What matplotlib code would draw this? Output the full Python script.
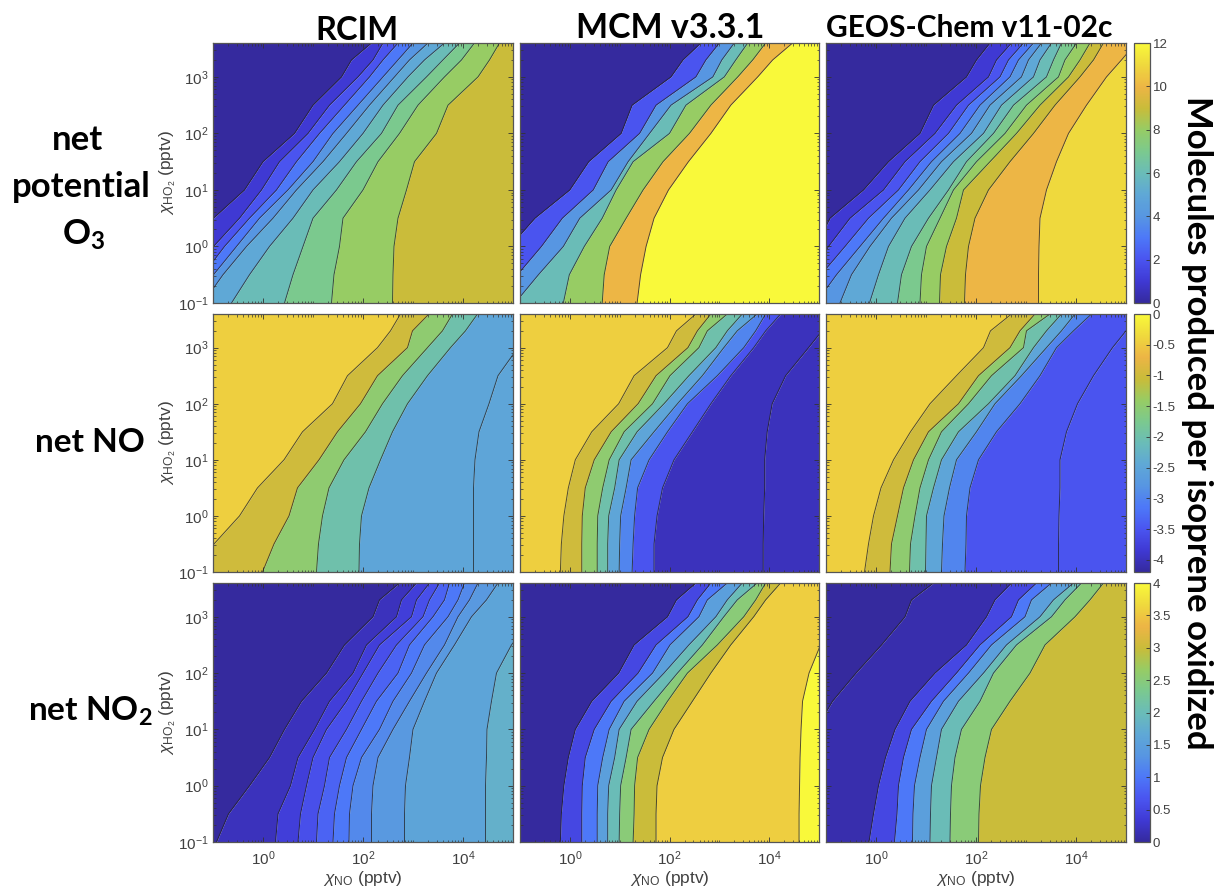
import numpy as np
import matplotlib
matplotlib.use('Agg')
import matplotlib.pyplot as plt
from matplotlib.colors import LinearSegmentedColormap, Normalize
from matplotlib.cm import ScalarMappable
from matplotlib.ticker import FixedLocator, LogLocator, NullFormatter, LogFormatterMathtext

plt.rcParams['font.family'] = ['Liberation Sans', 'DejaVu Sans']
plt.rcParams['mathtext.fontset'] = 'custom'
plt.rcParams['mathtext.rm'] = 'Liberation Sans'
plt.rcParams['mathtext.it'] = 'Liberation Sans:italic'
plt.rcParams['mathtext.bf'] = 'Lato:bold'

HO2_ROWS = [-1, -0.5, 0, 0.5, 1, 1.5, 2, 2.5, 3, 3.3, 3.6]

# each list: log10 NO of one contour edge at HO2_ROWS
RCIM_O3 = [
    [-1.2, -1.2, -1.2, -0.99, -0.37, 0.0, 0.63, 1.0, 1.57, 1.77, 2.17],
    [-1.4, -1.3, -0.99, -0.47, -0.03, 0.33, 0.9, 1.33, 1.9, 2.2, 2.4],
    [-1.5, -1.2, -0.77, -0.27, 0.27, 0.67, 1.13, 1.63, 2.13, 2.4, 2.7],
    [-1.5, -0.99, -0.53, -0.07, 0.5, 1.0, 1.4, 1.9, 2.4, 2.7, 3.0],
    [-1.2, -0.8, -0.33, 0.2, 0.67, 1.2, 1.67, 2.13, 2.63, 2.93, 3.3],
    [-0.63, -0.27, 0.13, 0.6, 1.0, 1.53, 2.0, 2.4, 2.9, 3.23, 3.63],
    [0.43, 0.6, 0.8, 1.0, 1.47, 1.87, 2.37, 2.7, 3.27, 3.6, 3.93],
    [1.37, 1.42, 1.53, 1.6, 2.0, 2.3, 2.73, 3.1, 3.63, 3.97, 4.23],
    [2.59, 2.6, 2.62, 2.7, 2.87, 3.03, 3.47, 3.7, 4.3, 4.53, 4.73],
]
RCIM_O3_BANDS = [0, 1, 2, 3, 4, 5, 6, 7, 8, 9]

MCM_O3 = [
    [-1.3, -1.3, -1.2, -0.7, 0.0, 0.38, 1.03, 1.25, 2.03, 2.27, 2.63],
    [-1.4, -1.05, -0.57, -0.15, 0.47, 0.77, 1.4, 1.73, 2.53, 2.73, 3.0],
    [-1.1, -0.63, -0.13, 0.2, 0.83, 1.17, 1.6, 2.03, 2.87, 3.05, 3.3],
    [-0.13, -0.01, 0.29, 0.65, 0.93, 1.27, 2.0, 2.33, 3.1, 3.33, 3.57],
    [0.65, 0.69, 0.8, 1.13, 1.47, 1.87, 2.4, 2.83, 3.37, 3.67, 3.93],
    [1.35, 1.42, 1.53, 1.69, 1.98, 2.38, 2.83, 3.23, 3.77, 4.07, 4.47],
]
MCM_O3_BANDS = [0, 2, 4, 6, 8, 10, 12]

GEOS_O3 = [
    [-1.3, -1.3, -1.2, -0.92, -0.25, 0.25, 0.88, 1.15, 1.81, 2.01, 2.28],
    [-1.4, -1.3, -0.95, -0.52, 0.15, 0.58, 1.18, 1.61, 2.25, 2.41, 2.71],
    [-1.5, -1.1, -0.62, -0.15, 0.45, 0.88, 1.45, 1.85, 2.48, 2.65, 2.95],
    [-1.2, -0.79, -0.32, 0.15, 0.65, 1.11, 1.68, 2.08, 2.68, 2.85, 3.15],
    [-0.72, -0.49, -0.12, 0.31, 0.85, 1.31, 1.91, 2.28, 2.91, 3.05, 3.31],
    [-0.13, 0.05, 0.25, 0.58, 1.08, 1.55, 2.15, 2.51, 3.15, 3.28, 3.51],
    [0.43, 0.51, 0.71, 1.05, 1.45, 1.81, 2.35, 2.75, 3.41, 3.55, 3.71],
    [0.88, 0.91, 1.01, 1.28, 1.55, 2.01, 2.58, 3.01, 3.65, 3.78, 4.01],
    [1.27, 1.29, 1.41, 1.61, 1.75, 2.28, 2.81, 3.28, 3.85, 4.08, 4.28],
    [1.77, 1.79, 1.85, 1.98, 2.25, 2.68, 3.15, 3.58, 4.08, 4.35, 4.55],
    [3.25, 3.25, 3.26, 3.28, 3.41, 3.61, 3.85, 4.21, 4.61, 4.91, 5.2],
]
GEOS_O3_BANDS = [0, 1, 2, 3, 4, 5, 6, 7, 8, 9, 10, 11]

RCIM_NO = [
    [-1.3, -0.98, -0.47, -0.11, 0.42, 0.79, 1.39, 1.69, 2.29, 2.55, 2.75],
    [-0.01, 0.22, 0.52, 0.69, 1.12, 1.49, 1.95, 2.29, 2.89, 2.99, 3.32],
    [1.07, 1.11, 1.19, 1.32, 1.62, 2.05, 2.39, 2.79, 3.29, 3.59, 3.79],
    [1.92, 1.93, 1.97, 2.12, 2.35, 2.59, 2.89, 3.29, 3.75, 4.05, 4.29],
    [4.21, 4.21, 4.21, 4.21, 4.24, 4.32, 4.52, 4.7, 5.1, 5.4, 5.7],
]
RCIM_NO_BANDS = [-0.45, -1, -1.5, -2, -2.5, -2.5]

MCM_NO = [
    [-0.19, -0.17, -0.12, -0.03, 0.11, 0.44, 0.98, 1.29, 1.96, 2.14, 2.53],
    [0.24, 0.24, 0.25, 0.31, 0.49, 0.83, 1.37, 1.73, 2.37, 2.56, 2.83],
    [0.55, 0.55, 0.56, 0.66, 0.79, 1.09, 1.66, 2.01, 2.59, 2.76, 3.16],
    [0.76, 0.76, 0.78, 0.9, 0.99, 1.35, 1.89, 2.39, 2.93, 3.16, 3.46],
    [0.99, 1.0, 1.02, 1.13, 1.23, 1.69, 2.16, 2.66, 3.09, 3.36, 3.76],
    [1.25, 1.27, 1.3, 1.36, 1.59, 1.96, 2.36, 2.96, 3.49, 3.73, 3.93],
    [1.69, 1.69, 1.75, 1.86, 2.09, 2.46, 2.83, 3.23, 3.69, 3.93, 4.23],
    [3.88, 3.88, 3.89, 3.91, 3.91, 3.96, 4.06, 4.33, 4.79, 5.06, 5.4],
]
MCM_NO_BANDS = [-0.45, -1, -1.5, -2, -2.5, -3, -3.5, -4, -4]

GEOS_NO = [
    [-0.23, -0.15, -0.05, 0.1, 0.35, 0.69, 1.08, 1.61, 2.15, 2.29, 2.71],
    [0.28, 0.31, 0.43, 0.55, 0.75, 1.05, 1.65, 2.05, 2.68, 2.88, 3.18],
    [0.67, 0.69, 0.78, 0.88, 1.05, 1.31, 1.85, 2.31, 2.95, 3.01, 3.48],
    [0.99, 1.0, 1.01, 1.15, 1.31, 1.65, 2.25, 2.78, 3.15, 3.41, 3.71],
    [1.31, 1.33, 1.36, 1.47, 1.61, 2.01, 2.38, 2.91, 3.41, 3.71, 3.98],
    [1.78, 1.8, 1.81, 1.88, 2.05, 2.41, 2.88, 3.28, 3.61, 3.95, 4.31],
    [3.65, 3.65, 3.66, 3.68, 3.68, 3.81, 4.03, 4.35, 4.73, 5.0, 5.28],
]
GEOS_NO_BANDS = [-0.45, -1, -1.5, -2, -2.5, -3, -3.5, -3.5]

RCIM_NO2 = [
    [-0.93, -0.69, -0.27, 0.13, 0.43, 0.77, 1.27, 1.63, 2.2, 2.33, 2.73],
    [0.25, 0.3, 0.55, 0.7, 1.03, 1.33, 1.8, 2.07, 2.67, 2.77, 3.07],
    [0.7, 0.75, 0.87, 1.0, 1.27, 1.67, 2.0, 2.33, 2.97, 3.07, 3.33],
    [1.07, 1.1, 1.23, 1.33, 1.67, 1.97, 2.3, 2.67, 3.2, 3.33, 3.53],
    [1.4, 1.43, 1.53, 1.67, 1.97, 2.27, 2.7, 2.93, 3.4, 3.63, 3.73],
    [1.72, 1.73, 1.8, 1.97, 2.33, 2.6, 2.97, 3.23, 3.7, 3.9, 4.03],
    [2.17, 2.17, 2.2, 2.3, 2.6, 2.93, 3.27, 3.63, 3.9, 4.13, 4.3],
    [2.83, 2.83, 2.85, 2.93, 3.0, 3.23, 3.47, 3.83, 4.17, 4.47, 4.7],
    [4.45, 4.45, 4.45, 4.47, 4.48, 4.57, 4.67, 4.97, 5.4, 5.7, 6.0],
]
RCIM_NO2_BANDS = [0, 0.2, 0.4, 0.6, 0.8, 1.0, 1.2, 1.4, 1.6, 1.8]

MCM_NO2 = [
    [-0.19, -0.17, -0.12, -0.03, 0.11, 0.44, 0.98, 1.29, 1.96, 2.14, 2.53],
    [0.24, 0.24, 0.25, 0.31, 0.49, 0.83, 1.37, 1.73, 2.37, 2.56, 2.83],
    [0.55, 0.55, 0.56, 0.66, 0.79, 1.09, 1.66, 2.01, 2.59, 2.76, 3.16],
    [0.76, 0.76, 0.78, 0.9, 0.99, 1.35, 1.89, 2.39, 2.93, 3.16, 3.46],
    [0.99, 1.0, 1.02, 1.13, 1.23, 1.69, 2.16, 2.66, 3.09, 3.36, 3.76],
    [1.27, 1.29, 1.3, 1.36, 1.59, 1.96, 2.36, 2.96, 3.49, 3.73, 3.93],
    [1.73, 1.73, 1.75, 1.86, 2.09, 2.46, 2.83, 3.23, 3.69, 3.93, 4.23],
    [4.6, 4.6, 4.61, 4.62, 4.64, 4.67, 4.8, 5.03, 5.4, 5.7, 6.0],
]
MCM_NO2_BANDS = [0, 0.5, 1, 1.5, 2, 2.5, 3, 3.55, 4]

GEOS_NO2 = [
    [-1.3, -1.3, -1.3, -1.3, -1.2, -0.87, -0.4, 0.11, 0.58, 0.71, 1.15],
    [-0.14, -0.05, 0.05, 0.19, 0.38, 0.68, 1.18, 1.81, 2.21, 2.38, 2.71],
    [0.37, 0.42, 0.45, 0.55, 0.71, 1.11, 1.61, 2.08, 2.71, 2.85, 3.21],
    [0.73, 0.74, 0.77, 0.88, 1.01, 1.35, 1.85, 2.31, 2.98, 3.11, 3.51],
    [1.08, 1.09, 1.11, 1.21, 1.31, 1.65, 2.15, 2.61, 3.28, 3.55, 3.95],
    [1.48, 1.49, 1.51, 1.58, 1.71, 2.08, 2.35, 2.81, 3.51, 3.78, 4.11],
    [2.05, 2.06, 2.09, 2.18, 2.31, 2.68, 3.08, 3.38, 3.98, 4.28, 4.55],
]
GEOS_NO2_BANDS = [0, 0.1, 0.5, 1, 1.5, 2, 2.5, 3]

COL_TITLES = ['RCIM', 'MCM v3.3.1', 'GEOS-Chem v11-02c']
CBAR_RANGES = [(0, 12), (-4.2, 0), (0, 4)]
CBAR_TICKS = [
    [0, 2, 4, 6, 8, 10, 12],
    [-4, -3.5, -3, -2.5, -2, -1.5, -1, -0.5, 0],
    [0, 0.5, 1, 1.5, 2, 2.5, 3, 3.5, 4],
]
CBAR_LABELS = [
    ['0', '2', '4', '6', '8', '10', '12'],
    ['-4', '-3.5', '-3', '-2.5', '-2', '-1.5', '-1', '-0.5', '0'],
    ['0', '0.5', '1', '1.5', '2', '2.5', '3', '3.5', '4'],
]
PANELS = [
    [(RCIM_O3, RCIM_O3_BANDS), (MCM_O3, MCM_O3_BANDS), (GEOS_O3, GEOS_O3_BANDS)],
    [(RCIM_NO, RCIM_NO_BANDS), (MCM_NO, MCM_NO_BANDS), (GEOS_NO, GEOS_NO_BANDS)],
    [(RCIM_NO2, RCIM_NO2_BANDS), (MCM_NO2, MCM_NO2_BANDS), (GEOS_NO2, GEOS_NO2_BANDS)],
]

cmap = LinearSegmentedColormap.from_list('parula_ish', [
    '#352a9e', '#3f39d4', '#4a55f0', '#4d78f8', '#5796e2', '#5fa8d6', '#6abcb8',
    '#7bc98f', '#97cc64', '#c9bc3a', '#edb545', '#efd93d', '#f9f93a'])

W, H = 1217, 888
GRAY = '#404040'
COL_X = [(213, 513), (520, 819), (826, 1126)]
ROW_Y = [(43, 303), (314, 572), (583, 842)]
CBAR_X = (1134, 1150)


def px_axes(x0, x1, y0, y1):
    return fig.add_axes([x0 / W, 1 - y1 / H, (x1 - x0) / W, (y1 - y0) / H])


def px_text(x, y, s, **kw):
    fig.text(x / W, 1 - y / H, s, ha='center', va='center', color='black',
             family=['Lato', 'DejaVu Sans'], fontweight='bold', **kw)


def draw_panel(ax, edges, bands, norm):
    rows = 10.0 ** np.array(HO2_ROWS)
    stack = [np.full(len(rows), 1e-3)] + [10.0 ** np.array(e) for e in edges] + [np.full(len(rows), 1e7)]
    for i, level in enumerate(bands):
        ax.fill_betweenx(rows, stack[i], stack[i + 1], color=cmap(norm(level)), lw=0)
    for e in stack[1:-1]:
        ax.plot(e, rows, color='#222222', lw=0.7, alpha=0.75)
    ax.set_xscale('log')
    ax.set_yscale('log')
    ax.set_xlim(1e-1, 1e5)
    ax.set_ylim(1e-1, 10 ** 3.6)
    ax.xaxis.set_major_locator(FixedLocator([1, 1e2, 1e4]))
    ax.xaxis.set_minor_locator(LogLocator(base=10, subs=np.arange(1, 10), numticks=20))
    ax.yaxis.set_major_locator(FixedLocator([1e-1, 1, 1e1, 1e2, 1e3]))
    ax.yaxis.set_minor_locator(LogLocator(base=10, subs=np.arange(1, 10), numticks=20))
    ax.xaxis.set_minor_formatter(NullFormatter())
    ax.yaxis.set_minor_formatter(NullFormatter())
    ax.xaxis.set_major_formatter(LogFormatterMathtext())
    ax.yaxis.set_major_formatter(LogFormatterMathtext())
    ax.tick_params(which='major', direction='in', top=True, right=True, length=3.5, width=0.6,
                   color='#333333', labelcolor=GRAY, labelsize=11, pad=3)
    ax.tick_params(axis='x', which='major', pad=5)
    ax.tick_params(which='minor', direction='in', top=True, right=True, length=1.8, width=0.5,
                   color='#333333')
    for s in ax.spines.values():
        s.set_color('#555555')
        s.set_linewidth(0.9)


fig = plt.figure(figsize=(W / 100, H / 100), dpi=100)

for r, row in enumerate(PANELS):
    norm = Normalize(*CBAR_RANGES[r])
    for c, (edges, bands) in enumerate(row):
        ax = px_axes(COL_X[c][0], COL_X[c][1], ROW_Y[r][0], ROW_Y[r][1])
        draw_panel(ax, edges, bands, norm)
        if c > 0:
            ax.tick_params(which='both', labelleft=False)
        else:
            ax.set_ylabel(r'$\chi_{\mathrm{HO}_2}$ (pptv)', color=GRAY, fontsize=12.5, labelpad=0)
        if r < 2:
            ax.tick_params(which='both', labelbottom=False)
        else:
            ax.set_xlabel(r'$\chi_{\mathrm{NO}}$ (pptv)', color=GRAY, fontsize=12.5, labelpad=1)
    cax = px_axes(CBAR_X[0], CBAR_X[1], ROW_Y[r][0], ROW_Y[r][1])
    cb = fig.colorbar(ScalarMappable(norm=norm, cmap=cmap), cax=cax)
    cb.set_ticks(CBAR_TICKS[r], labels=CBAR_LABELS[r])
    cb.ax.tick_params(direction='in', length=3, width=0.6, color='#333333', labelcolor=GRAY,
                      labelsize=9.5, pad=2)
    cb.outline.set_edgecolor('#555555')
    cb.outline.set_linewidth(0.9)

px_text(357, 30, COL_TITLES[0], fontsize=23.5)
px_text(670, 28, COL_TITLES[1], fontsize=24.5)
px_text(969, 28, COL_TITLES[2], fontsize=21.5)

px_text(78, 140, 'net', fontsize=25)
px_text(81, 187, 'potential', fontsize=25)
px_text(84, 235, r'O$_{\mathbf{3}}$', fontsize=25)
px_text(90, 443, 'net NO', fontsize=24)
px_text(90, 711, r'net NO$_{\mathbf{2}}$', fontsize=24)
px_text(1197, 423, 'Molecules produced per isoprene oxidized', fontsize=25, rotation=270)

fig.savefig('out.png', dpi=100)
